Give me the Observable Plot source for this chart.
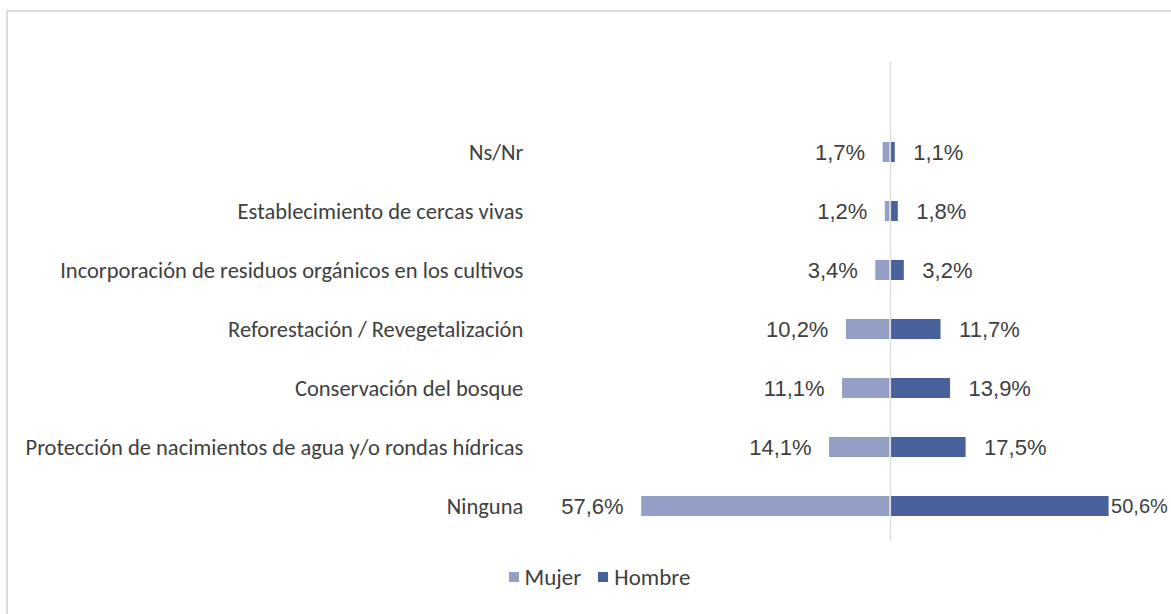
<!DOCTYPE html>
<html>
<head>
<meta charset="utf-8">
<script src="https://cdn.jsdelivr.net/npm/d3@7"></script>
<script src="https://cdn.jsdelivr.net/npm/@observablehq/plot@0.6"></script>
<style>
  html, body { margin: 0; padding: 0; background: #fff; overflow: hidden; }
  #frame { position: absolute; left: 6px; top: 10px; width: 1300px; height: 700px;
           border-left: 2px solid #dcdcdc; border-top: 2px solid #dcdcdc; }
  #chart { position: absolute; left: 0; top: 0; }
  #legend { position: absolute; top: 563px; left: 0; width: 1171px; padding-left: 28px; box-sizing: border-box;
            display: flex; justify-content: center; gap: 17px; font-family: Carlito, Calibri, sans-serif; font-size: 23px; color: #404040; }
  #legend span.item { display: flex; align-items: center; gap: 6px; }
  #legend span.sw { display: inline-block; width: 10px; height: 10px; }
</style>
</head>
<body>
<div id="frame"></div>
<div id="chart"></div>
<div id="legend"></div>
<script>
const categories = [
  "Ns/Nr",
  "Establecimiento de cercas vivas",
  "Incorporación de residuos orgánicos en los cultivos",
  "Reforestación / Revegetalización",
  "Conservación del bosque",
  "Protección de nacimientos de agua y/o rondas hídricas",
  "Ninguna"
];
const mujer  = [1.7, 1.2, 3.4, 10.2, 11.1, 14.1, 57.6];
const hombre = [1.1, 1.8, 3.2, 11.7, 13.9, 17.5, 50.6];
const seriesNames = ["Mujer", "Hombre"];
const seriesColors = ["#949fc6", "#48609c"];

const fmt = v => v.toFixed(1).replace(".", ",") + "%";
const dataM = categories.map((c, i) => ({cat: c, sex: "Mujer", v: mujer[i]}));
const dataH = categories.map((c, i) => ({cat: c, sex: "Hombre", v: hombre[i]}));
const last = categories[categories.length - 1];
const valFont = {fontFamily: "'Liberation Sans', Arial, sans-serif", fontSize: 22, fill: "#404040"};

const chart = Plot.plot({
  width: 1171,
  height: 560,
  marginLeft: 630.8,
  marginRight: 21.8,
  marginTop: 62,
  marginBottom: 20,
  style: {fontFamily: "'Liberation Sans', Arial, sans-serif", fontSize: "22px", color: "#404040", background: "transparent"},
  x: {domain: [-60, 60], axis: null},
  y: {type: "band", domain: categories, range: [100.3, 557.9], padding: 0.665, axis: null},
  color: {domain: seriesNames, range: seriesColors},
  marks: [
    Plot.barX(dataM, {x1: () => 0, x2: d => -d.v, y: "cat", fill: d => d.sex, insetRight: 0.5}),
    Plot.barX(dataH, {x1: () => 0, x2: d => d.v, y: "cat", fill: d => d.sex, insetLeft: 0.5}),
    Plot.ruleX([0], {stroke: "#d9d9d9", strokeWidth: 1.2}),
    Plot.text(dataM, {x: d => -d.v, y: "cat", text: d => fmt(d.v), textAnchor: "end", dx: -18, ...valFont}),
    Plot.text(dataH.filter(d => d.cat !== last), {x: d => d.v, y: "cat", text: d => fmt(d.v), textAnchor: "start", dx: 18, ...valFont}),
    Plot.text(dataH.filter(d => d.cat === last), {x: d => d.v, y: "cat", text: d => fmt(d.v), textAnchor: "start", dx: 2, ...valFont, fontSize: 20}),
    Plot.axisY({anchor: "left", tickSize: 0, tickPadding: 108, fontFamily: "Carlito, Calibri, sans-serif", fontSize: 22.5, fill: "#404040", label: null})
  ]
});
document.getElementById("chart").appendChild(chart);

const legend = document.getElementById("legend");
seriesNames.forEach((n, i) => {
  const item = document.createElement("span");
  item.className = "item";
  const sw = document.createElement("span");
  sw.className = "sw";
  sw.style.background = seriesColors[i];
  const t = document.createElement("span");
  t.textContent = n;
  item.appendChild(sw);
  item.appendChild(t);
  legend.appendChild(item);
});
</script>
</body>
</html>
